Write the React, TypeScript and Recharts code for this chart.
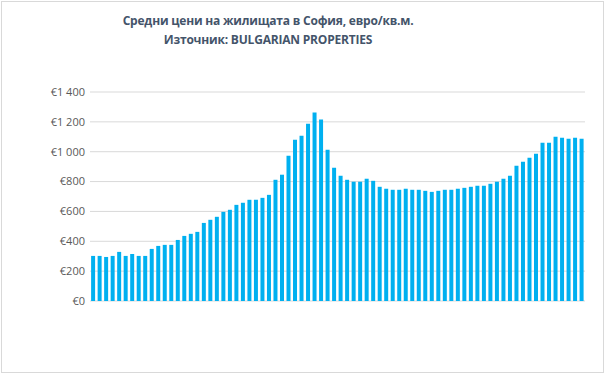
import React from "react";
import { BarChart, Bar, XAxis, YAxis, CartesianGrid } from "recharts";

// quarterly periods (not shown on the axis in the original)
const quarters: string[] = [
    "2004 Q1", "2004 Q2", "2004 Q3", "2004 Q4",
    "2005 Q1", "2005 Q2", "2005 Q3", "2005 Q4",
    "2006 Q1", "2006 Q2", "2006 Q3", "2006 Q4",
    "2007 Q1", "2007 Q2", "2007 Q3", "2007 Q4",
    "2008 Q1", "2008 Q2", "2008 Q3", "2008 Q4",
    "2009 Q1", "2009 Q2", "2009 Q3", "2009 Q4",
    "2010 Q1", "2010 Q2", "2010 Q3", "2010 Q4",
    "2011 Q1", "2011 Q2", "2011 Q3", "2011 Q4",
    "2012 Q1", "2012 Q2", "2012 Q3", "2012 Q4",
    "2013 Q1", "2013 Q2", "2013 Q3", "2013 Q4",
    "2014 Q1", "2014 Q2", "2014 Q3", "2014 Q4",
    "2015 Q1", "2015 Q2", "2015 Q3", "2015 Q4",
    "2016 Q1", "2016 Q2", "2016 Q3", "2016 Q4",
    "2017 Q1", "2017 Q2", "2017 Q3", "2017 Q4",
    "2018 Q1", "2018 Q2", "2018 Q3", "2018 Q4",
    "2019 Q1", "2019 Q2", "2019 Q3", "2019 Q4",
    "2020 Q1", "2020 Q2", "2020 Q3", "2020 Q4",
    "2021 Q1", "2021 Q2", "2021 Q3", "2021 Q4",
    "2022 Q1", "2022 Q2", "2022 Q3", "2022 Q4",
];

// average price, EUR per sq.m.
const prices: number[] = [
    302, 302, 295, 302, 329, 302, 315, 302, 302, 349,
    369, 376, 376, 409, 436, 450, 463, 523, 544, 564,
    597, 611, 644, 658, 678, 678, 691, 711, 812, 846,
    973, 1080, 1107, 1188, 1262, 1215, 1013, 893, 839, 812,
    799, 799, 819, 805, 765, 752, 745, 745, 752, 745,
    745, 738, 731, 738, 745, 745, 752, 758, 765, 772,
    772, 785, 799, 819, 839, 906, 933, 960, 987, 1060,
    1060, 1101, 1094, 1087, 1094, 1087,
];

const yTicks: number[] = [0, 200, 400, 600, 800, 1000, 1200, 1400];

const chartData = quarters.map((q, i) => ({ quarter: q, price: prices[i] }));

const formatEuro = (v: number) =>
    "€" + String(v).replace(/\B(?=(\d{3})+(?!\d))/g, " ");

export default function App() {
    return (
        <div
            style={{
                position: "absolute",
                left: 0,
                top: 0,
                width: 604,
                height: 373,
                background: "#fff",
                fontFamily: "'Open Sans', sans-serif",
            }}
        >
            <div
                style={{
                    position: "absolute",
                    left: 1,
                    top: 1,
                    width: 601,
                    height: 370,
                    border: "1px solid #D9D9D9",
                }}
            />
            <div
                style={{
                    position: "absolute",
                    top: 11,
                    left: 0,
                    width: 536,
                    textAlign: "center",
                    color: "#44546A",
                    fontWeight: 700,
                    fontSize: 12,
                    lineHeight: "19px",
                    letterSpacing: -0.2,
                }}
            >
                <div>Средни цени на жилищата в София, евро/кв.м.</div>
                <div>Източник: BULGARIAN PROPERTIES</div>
            </div>
            <div style={{ position: "absolute", left: 0, top: 0 }}>
                <BarChart
                    width={604}
                    height={373}
                    data={chartData}
                    margin={{ top: 92, right: 19, left: 0, bottom: 72 }}
                    barCategoryGap="17%"
                >
                    <CartesianGrid vertical={false} stroke="#D9D9D9" />
                    <XAxis dataKey="quarter" hide />
                    <YAxis
                        width={90}
                        domain={[0, 1400]}
                        ticks={yTicks}
                        axisLine={false}
                        tickLine={false}
                        tickSize={0}
                        tickMargin={5}
                        tickFormatter={formatEuro}
                        tick={{ fontSize: 11, fill: "#595959" }}
                    />
                    <Bar dataKey="price" fill="#00B0F0" isAnimationActive={false} />
                </BarChart>
            </div>
        </div>
    );
}
